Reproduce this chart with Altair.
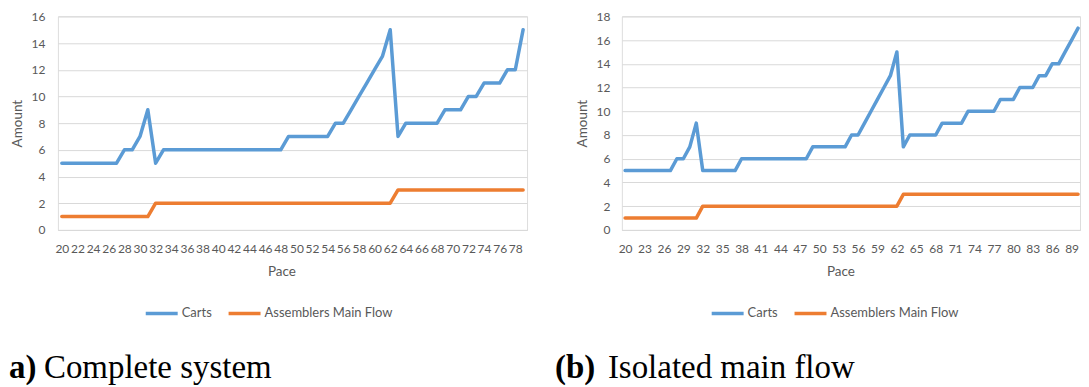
import altair as alt
import pandas as pd

# ---------------- data ----------------
pace_a = list(range(20, 80))
carts_a = [5, 5, 5, 5, 5, 5, 5, 5, 6, 6, 7, 9, 5,
           6, 6, 6, 6, 6, 6, 6, 6, 6, 6, 6, 6, 6, 6, 6, 6,
           7, 7, 7, 7, 7, 7, 8, 8, 9, 10, 11, 12, 13, 15, 7,
           8, 8, 8, 8, 8, 9, 9, 9, 10, 10, 11, 11, 11, 12, 12, 15]
asm_a = [1] * 12 + [2] * 31 + [3] * 17

pace_b = list(range(20, 91))
carts_b = [5, 5, 5, 5, 5, 5, 5, 5, 6, 6, 7, 9, 5, 5, 5, 5, 5, 5,
           6, 6, 6, 6, 6, 6, 6, 6, 6, 6, 6,
           7, 7, 7, 7, 7, 7, 8, 8, 9, 10, 11, 12, 13, 15, 7,
           8, 8, 8, 8, 8, 9, 9, 9, 9, 10, 10, 10, 10, 10,
           11, 11, 11, 12, 12, 12, 13, 13, 14, 14, 15, 16, 17]
asm_b = [1] * 12 + [2] * 31 + [3] * 28

series_names = ["Carts", "Assemblers Main Flow"]
series_colors = ["#5B9BD5", "#ED7D31"]

ticks_a = list(range(20, 79, 2))
ticks_b = list(range(20, 90, 3))

GRID = "#D9D9D9"
TXT = "#595959"
FONT = "Lato"
PLOT_H = 214


def panel(pace, carts, asm, ymax, width, xmax, xticks, label_pad, ytitle_x,
          xtitle_x, legend_x, cap_bold, cap_bold_x, cap_text, cap_text_x):
    df = pd.DataFrame({
        "pace": pace + pace,
        "amount": carts + asm,
        "series": [series_names[0]] * len(pace) + [series_names[1]] * len(pace),
    })
    lines = alt.Chart(df).mark_line(
        strokeWidth=3.5, strokeJoin="round", strokeCap="round"
    ).encode(
        x=alt.X("pace:Q",
                scale=alt.Scale(domain=[19.5, xmax], nice=False, zero=False),
                axis=alt.Axis(values=xticks, grid=False, ticks=False,
                              domainColor=GRID, domainWidth=1,
                              labelFont=FONT, labelFontSize=12, labelColor=TXT,
                              labelPadding=18.5, labelBaseline="middle",
                              labelOverlap=False, labelFlush=False,
                              title="Pace", titleFont=FONT, titleFontSize=13.5,
                              titleColor=TXT, titleFontWeight="normal",
                              titleX=xtitle_x, titleY=41.4,
                              titleBaseline="middle", titleAlign="center")),
        y=alt.Y("amount:Q",
                scale=alt.Scale(domain=[0, ymax], nice=False),
                axis=alt.Axis(values=list(range(0, ymax + 1, 2)), grid=True,
                              gridColor=GRID, gridWidth=1, domain=False,
                              ticks=False, labelFont=FONT, labelFontSize=12,
                              labelColor=TXT, labelPadding=label_pad,
                              title="Amount", titleFont=FONT, titleFontSize=13.5,
                              titleColor=TXT, titleFontWeight="normal",
                              titleX=ytitle_x, titleY=PLOT_H / 2,
                              titleAngle=270, titleBaseline="middle",
                              titleAlign="center")),
        color=alt.Color("series:N",
                        scale=alt.Scale(domain=series_names, range=series_colors),
                        legend=alt.Legend(orient="none", legendX=legend_x,
                                          legendY=279.7, direction="horizontal",
                                          title=None, symbolType="stroke",
                                          symbolSize=1024, symbolStrokeWidth=3.5,
                                          labelFont=FONT, labelFontSize=13,
                                          labelColor=TXT, labelOffset=2,
                                          columnPadding=9)),
    )
    cap1 = alt.Chart(pd.DataFrame({"t": [cap_bold]})).mark_text(
        font="Liberation Serif", fontSize=33, fontWeight="bold",
        align="left", baseline="alphabetic", color="#000000"
    ).encode(text="t:N", x=alt.value(cap_bold_x), y=alt.value(362))
    cap2 = alt.Chart(pd.DataFrame({"t": [cap_text]})).mark_text(
        font="Liberation Serif", fontSize=33, fontWeight="normal",
        align="left", baseline="alphabetic", color="#000000"
    ).encode(text="t:N", x=alt.value(cap_text_x), y=alt.value(362))
    return alt.layer(lines, cap1, cap2).properties(width=width, height=PLOT_H)


left = panel(pace_a, carts_a, asm_a, 16, 470, 79.5, ticks_a, 13, -40, 224, 86,
             "a)", -49, "Complete system", -14)
right = panel(pace_b, carts_b, asm_b, 18, 459, 90.3, ticks_b, 12, -39, 219, 88,
              "(b)", -67, "Isolated main flow", -14)

chart = alt.hconcat(left, right, spacing=95, bounds="flush").resolve_scale(
    color="independent"
).resolve_legend(color="independent").properties(
    padding={"left": 0, "top": 1, "right": 0, "bottom": 0}
).configure_view(stroke=None).configure(background="white")

chart.save("out.html", embed_options={"renderer": "svg", "actions": False})
